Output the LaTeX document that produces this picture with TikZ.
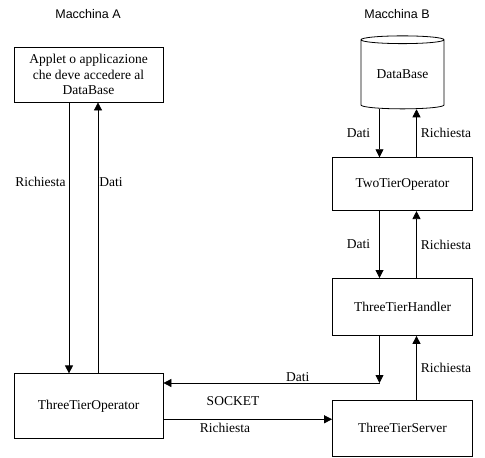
\documentclass[tikz,border=0pt]{standalone}
\usepackage{fontspec}
\setmainfont{Liberation Serif}
\newfontfamily\titlefont{Liberation Sans}
\usepackage{tikz}
\usetikzlibrary{positioning,shapes.geometric,arrows.meta}
\tikzset{
	box/.style={draw, rectangle, minimum width=140pt, inner sep=0pt},
	arr/.style={-{Triangle[length=8pt,width=8pt]}},
	lbl/.style={inner sep=1pt},
}

\begin{document}
\begin{tikzpicture}[x=1pt, y=-1pt, font=\fontsize{13.5}{15.5}\selectfont, line width=0.8pt, node distance=0pt]
	\useasboundingbox (0,0) rectangle (485,458);

	\node[font=\titlefont\fontsize{12.5}{14}\selectfont] (titleA) at (88,14) {Macchina A};
	\node[font=\titlefont\fontsize{12.5}{14}\selectfont] (titleB) at (397,14) {Macchina B};

	\node[box, minimum width=149pt, minimum height=55pt, align=center] (app) at (88.5,74.5) {Applet o applicazione\\che deve accedere al\\DataBase};
	\node[box, minimum width=149pt, minimum height=65pt, below=271pt of app] (op) {ThreeTierOperator};

	\node[draw, cylinder, shape border rotate=90, aspect=0.15, minimum width=83pt, minimum height=73pt, inner sep=0pt] (db) at (402.5,74.5) {DataBase};
	\node[box, minimum height=53pt, below=48pt of db] (two) {TwoTierOperator};
	\node[box, minimum height=57pt, below=67pt of two] (handler) {ThreeTierHandler};
	\node[box, minimum height=56pt, below=64pt of handler] (server) {ThreeTierServer};

	\coordinate (turn) at ([xshift=-23pt]handler.south |- 0,383);
	\node (socket) at (233,401) {SOCKET};

	\draw[arr] ([xshift=-19.5pt]app.south) -- node[lbl, pos=0.295, left=2pt] {Richiesta} ([xshift=-19.5pt]op.north);
	\draw[arr] ([xshift=9.5pt]op.north) -- node[lbl, pos=0.705, right] {Dati} ([xshift=9.5pt]app.south);

	\draw[arr] ([xshift=-23pt]db.south) -- node[lbl, left=8pt] {Dati} ([xshift=-23pt]two.north);
	\draw[arr] ([xshift=14pt]two.north) -- node[lbl, right=3pt] {Richiesta} ([xshift=14pt]db.south);
	\draw[arr] ([xshift=-23pt]two.south) -- node[lbl, left=8pt] {Dati} ([xshift=-23pt]handler.north);
	\draw[arr] ([xshift=14pt]handler.north) -- node[lbl, right=3pt] {Richiesta} ([xshift=14pt]two.south);
	\draw[arr] ([xshift=14pt]server.north) -- node[lbl, right=3pt] {Richiesta} ([xshift=14pt]handler.south);

	\draw[arr] ([xshift=-23pt]handler.south) -- (turn);
	\draw[arr] (turn) -- node[lbl, pos=0.378, above] {Dati} (turn -| op.east);
	\draw[arr] ([yshift=9pt]server.west -| op.east) -- node[lbl, pos=0.365, below=2pt] {Richiesta} ([yshift=9pt]server.west);
\end{tikzpicture}
\end{document}
